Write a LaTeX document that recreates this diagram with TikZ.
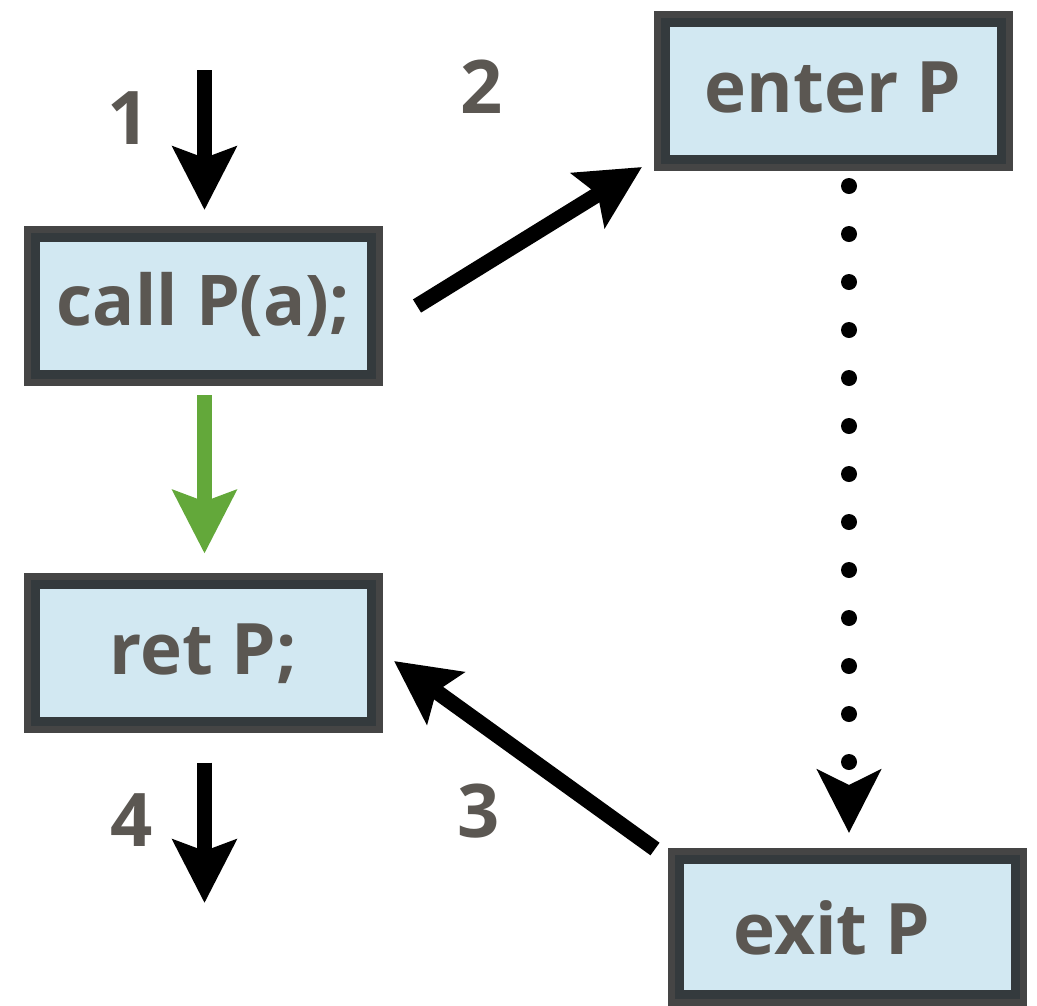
\documentclass[tikz,border=0pt]{standalone}
\usepackage{fontspec}
\setmainfont{Open Sans}
\usetikzlibrary{arrows.meta}
\definecolor{boxfill}{HTML}{D2E8F2}
\definecolor{borderlight}{HTML}{454545}
\definecolor{borderdark}{HTML}{343A3D}
\definecolor{txt}{HTML}{5B5752}
\definecolor{arrgreen}{HTML}{63A83A}
\begin{document}
\begin{tikzpicture}[x=1pt,y=-1pt,
  blockbox/.style={rectangle, fill=boxfill, draw=borderdark, line width=9pt,
    preaction={draw=borderlight, line width=23pt},
    minimum width=336pt, minimum height=137pt, inner sep=0pt,
    text=txt, font=\bfseries\fontsize{71}{71}\selectfont, text height=50pt, text depth=0pt},
  numlabel/.style={inner sep=0pt, text=txt, font=\bfseries\fontsize{74}{74}\selectfont},
  flow/.style={line width=15.5pt, -{Stealth[length=63pt, width=63pt, inset=11pt]}},
  greenflow/.style={flow, draw=arrgreen},
  dotflow/.style={line width=16pt, line cap=round, dash pattern=on 0pt off 48pt,
    -{Stealth[length=63pt, width=63pt, inset=15pt]}}
]
\useasboundingbox (0,0) rectangle (1037,1005);
\fill[white] (0,0) rectangle (1037,1005);

\node[blockbox, font=\bfseries\fontsize{70}{70}\selectfont, text height=38pt] (call) at (203.5,306) {call P(a);};
\node[blockbox, text height=44pt] (ret) at (203.5,652.5) {ret P;};
\node[blockbox, text height=42pt] (enter) at (833,91) {enter P};
\node[blockbox, minimum height=135pt, text height=55pt] (exit) at (847,926.5) {exit P\kern30pt};

\node[numlabel] (n1) at (129,118) {1};
\node[numlabel] (n2) at (482,87) {2};
\node[numlabel] (n3) at (479,811) {3};
\node[numlabel] (n4) at (132,820) {4};

\coordinate (a1s) at (204.5,70);
\coordinate (a4e) at (204.5,903);
\coordinate (a2s) at (417,306);
\coordinate (a2e) at (642,167);
\coordinate (a3s) at (655,849);
\coordinate (a3e) at (394,661);
\coordinate (d1) at (849,186);
\coordinate (d2) at (849,833);

\draw[flow] (a1s) -- ([yshift=23pt]call.north -| a1s);
\draw[greenflow] ([yshift=-16pt]call.south -| a1s) -- ([yshift=26pt]ret.north -| a1s);
\draw[flow] ([yshift=-37pt]ret.south -| a4e) -- (a4e);
\draw[flow] (a2s) -- (a2e);
\draw[flow] (a3s) -- (a3e);
\draw[dotflow] (d1) -- (d2);
\end{tikzpicture}
\end{document}
